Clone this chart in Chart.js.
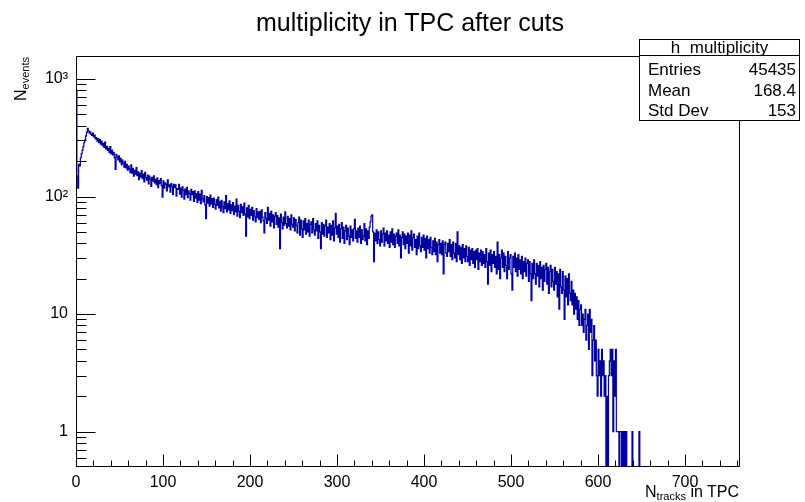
<!DOCTYPE html>
<html>
<head>
<meta charset="utf-8">
<title>multiplicity in TPC after cuts</title>
<script src="https://cdn.jsdelivr.net/npm/chart.js@4.4.1/dist/chart.umd.min.js"></script>
<style>
  html, body { margin: 0; padding: 0; background: #fff; }
  #wrap { position: relative; width: 805px; height: 502px; overflow: hidden;
          font-family: "Liberation Sans", Arial, Helvetica, sans-serif; color: #000; }
  #plot { position: absolute; left: 0; top: 0; }
  .txt { position: absolute; white-space: nowrap; }
  #title { left: 0; width: 820px; top: 10px; text-align: center; font-size: 25px; line-height: 25px; }
  #stats { position: absolute; left: 639px; top: 39px; width: 161px; height: 82px;
           box-sizing: border-box; border: 1px solid #000; background: #fff; }
  #statsHead { position: absolute; left: 0; right: 0; top: 0; height: 15px; border-bottom: 1px solid #000; }
  .st { font-size: 17px; line-height: 17px; }
  .stL { left: 648px; }
  .stR { right: 9px; text-align: right; }
  #xTitle { right: 66px; top: 484px; font-size: 16px; line-height: 16px; }
  #yTitle { left: 13px; top: 157px; width: 100px; height: 16px; text-align: right;
            font-size: 16px; line-height: 16px; transform-origin: 0 0; transform: rotate(-90deg); }
  .sub { font-size: 11px; position: relative; top: 3px; }
</style>
</head>
<body>
<div id="wrap">
  <canvas id="plot" width="805" height="502"></canvas>
  <div id="title" class="txt">multiplicity in TPC after cuts</div>
  <div id="stats"><div id="statsHead"></div></div>
  <div class="txt st" id="statsName" style="left:639px;width:161px;text-align:center;top:39px;"></div>
  <div class="txt st stL" style="top:61px;">Entries</div>
  <div class="txt st stR" id="sEntries" style="top:61px;"></div>
  <div class="txt st stL" style="top:82px;">Mean</div>
  <div class="txt st stR" id="sMean" style="top:82px;"></div>
  <div class="txt st stL" style="top:102px;">Std Dev</div>
  <div class="txt st stR" id="sStd" style="top:102px;"></div>
  <div id="xTitle" class="txt">N<span class="sub">tracks</span> in TPC</div>
  <div id="yTitle" class="txt">N<span class="sub">events</span></div>
</div>
<script>
// Histogram h_multiplicity: one bin per track count, starting at 0.
const binWidth = 1;
const counts = [
  800,150,118,188,182,214,232,248,266,287,
  302,328,352,380,362,346,356,338,331,347,
  322,334,309,318,296,312,288,305,279,296,
  271,284,262,291,255,268,247,259,236,266,
  231,249,226,238,214,170,229,218,205,222,
  197,211,186,204,193,178,199,175,188,168,
  182,171,160,186,158,174,149,167,155,176,
  151,162,139,158,147,166,142,155,133,161,
  145,138,152,128,149,141,122,146,135,150,
  131,140,126,144,119,137,129,142,124,99,
  136,118,131,127,112,139,121,126,109,129,
  122,104,127,119,126,101,117,115,127,105,
  118,99,121,113,95,116,104,120,98,112,
  106,93,115,104,110,91,112,97,106,89,
  110,93,105,87,113,96,90,102,85,65,
  100,88,98,83,103,86,96,81,97,86,
  78,94,84,99,80,91,75,93,82,73,
  90,79,102,74,87,77,92,72,85,76,
  89,70,83,74,95,68,84,75,66,86,
  73,82,69,88,71,46,80,67,84,65,
  78,69,81,63,76,68,61,79,66,74,
  64,75,60,77,67,62,49,73,65,59,
  81,63,72,56,75,61,70,54,68,73,
  58,69,55,66,36,71,60,53,67,57,
  74,59,54,68,56,65,52,70,58,55,
  66,51,64,57,49,60,67,47,63,53,
  45,62,52,65,48,59,50,63,46,58,
  61,49,65,52,47,59,51,62,44,57,
  50,36,60,48,58,46,56,63,45,55,
  49,59,43,57,47,62,42,54,72,48,
  56,45,58,41,53,60,44,55,40,51,
  57,43,54,46,39,56,45,52,42,53,
  64,44,51,41,54,45,56,40,52,43,
  46,59,42,53,39,51,44,55,61,68,
  70,50,28,49,42,52,40,50,43,38,
  51,41,48,54,38,49,42,51,40,47,
  37,50,41,53,39,48,37,46,49,40,
  52,38,47,30,45,50,39,48,36,46,
  40,49,33,47,38,51,35,45,48,37,
  43,32,46,36,49,38,34,45,37,47,
  35,44,30,46,36,43,33,45,37,32,
  42,34,44,32,41,28,39,43,33,40,
  32,42,22,39,41,33,31,40,34,43,
  31,39,29,41,33,30,40,28,50,32,
  38,29,37,27,39,30,36,28,38,31,
  28,37,26,35,29,36,27,34,25,35,
  29,36,24,33,28,35,26,34,27,32,
  25,36,28,18,33,26,35,23,32,27,
  34,25,31,22,41,24,32,20,30,35,
  25,33,23,31,26,20,34,24,30,32,
  22,16,31,25,33,23,30,21,32,24,
  29,22,31,20,28,23,30,21,27,29,
  19,28,22,13,27,20,29,22,18,27,
  21,26,17,28,20,25,16,26,19,24,
  27,18,25,15,23,26,17,24,19,16,
  25,18,23,14,22,11,24,17,15,23,
  16,9,21,14,20,12,22,15,13,19,
  12,16,10,15,11,14,9,13,8,11,
  12,8,10,7,9,11,6,8,10,5,
  11,7,9,3,6,8,4,6,3,2,
  5,3,4,2,5,3,4,2,3,0,
  2,0,3,4,5,3,5,1,4,2,
  5,1,1,1,0,1,1,0,1,0,
  1,0,1,0,0,0,0,0,0,1,
  0,0,0,0,0,0,0,1,0,0
];

// Axis ranges and tick positions
const xRange = [0, 762];
const yRange = [0.5, 1540];
const xTickValues = [];
for (let v = 0; v <= 760; v += 20) xTickValues.push(v);
const xMajorTicks = [0, 100, 200, 300, 400, 500, 600, 700];
const yTickValues = [0.6, 0.7, 0.8, 0.9,
  1, 2, 3, 4, 5, 6, 7, 8, 9,
  10, 20, 30, 40, 50, 60, 70, 80, 90,
  100, 200, 300, 400, 500, 600, 700, 800, 900, 1000];
const yMajorTicks = [1, 10, 100, 1000];
const yMajorLabels = ['1', '10', '10\u00B2', '10\u00B3'];

// Statistics box contents
const statsName = 'h_multiplicity';
const statsEntries = '45435';
const statsMean = '168.4';
const statsStdDev = '153';

document.getElementById('statsName').textContent = statsName;
document.getElementById('sEntries').textContent = statsEntries;
document.getElementById('sMean').textContent = statsMean;
document.getElementById('sStd').textContent = statsStdDev;

// Empty bins sit below the log axis; they are drawn to a floor value under the frame.
const floorValue = 0.05;
const pts = [{ x: 0, y: floorValue }];
counts.forEach((c, i) => pts.push({ x: i * binWidth, y: c > 0 ? c : floorValue }));
pts.push({ x: counts.length * binWidth, y: floorValue });

const FONT = '"Liberation Sans", Arial, Helvetica, sans-serif';

// ROOT-style frame with ticks pointing into the plot area
const frameTicks = {
  id: 'frameTicks',
  afterDatasetsDraw(chart) {
    const { ctx, chartArea: a, scales } = chart;
    const xs = scales.x, ys = scales.y;
    ctx.save();
    ctx.strokeStyle = '#000';
    ctx.lineWidth = 1;
    ctx.beginPath();
    ctx.moveTo(a.left + 0.5, a.top - 0.5);
    ctx.lineTo(a.right + 0.5, a.top - 0.5);
    ctx.lineTo(a.right + 0.5, a.bottom - 0.5);
    ctx.lineTo(a.left + 0.5, a.bottom - 0.5);
    ctx.closePath();
    ctx.stroke();
    ctx.beginPath();
    xTickValues.forEach(v => {
      const px = Math.round(xs.getPixelForValue(v)) + 0.5;
      const len = xMajorTicks.includes(v) ? 12 : 6;
      ctx.moveTo(px, a.bottom - 0.5);
      ctx.lineTo(px, a.bottom - 0.5 - len);
    });
    yTickValues.forEach(v => {
      const py = Math.round(ys.getPixelForValue(v)) + 0.5;
      const len = yMajorTicks.includes(v) ? 19 : 10;
      ctx.moveTo(a.left + 0.5, py);
      ctx.lineTo(a.left + 0.5 + len, py);
    });
    ctx.stroke();
    ctx.restore();
  }
};

new Chart(document.getElementById('plot'), {
  type: 'line',
  data: {
    datasets: [{
      label: statsName,
      data: pts,
      stepped: true,
      borderColor: '#00009a',
      borderWidth: 1.2,
      pointRadius: 0,
      fill: false,
      tension: 0
    }]
  },
  options: {
    responsive: false,
    devicePixelRatio: 1,
    animation: false,
    events: [],
    layout: { padding: { left: 0, right: 66, top: 57, bottom: 0 } },
    plugins: { legend: { display: false }, tooltip: { enabled: false }, title: { display: false } },
    scales: {
      x: {
        type: 'linear',
        min: xRange[0],
        max: xRange[1],
        grid: { display: false, drawTicks: false },
        border: { display: false },
        afterBuildTicks: s => { s.ticks = xTickValues.map(v => ({ value: v })); },
        afterFit: s => { s.height = 35; },
        ticks: {
          autoSkip: false,
          maxRotation: 0,
          padding: 6,
          color: '#000',
          font: { family: FONT, size: 16 },
          callback: v => (xMajorTicks.includes(v) ? String(v) : '')
        }
      },
      y: {
        type: 'logarithmic',
        min: yRange[0],
        max: yRange[1],
        grid: { display: false, drawTicks: false },
        border: { display: false },
        afterBuildTicks: s => { s.ticks = yTickValues.map(v => ({ value: v })); },
        afterFit: s => { s.width = 76; },
        ticks: {
          autoSkip: false,
          padding: 8,
          color: '#000',
          font: { family: FONT, size: 16 },
          callback: v => {
            const k = yMajorTicks.indexOf(v);
            return k >= 0 ? yMajorLabels[k] : '';
          }
        }
      }
    }
  },
  plugins: [frameTicks]
});
</script>
</body>
</html>
